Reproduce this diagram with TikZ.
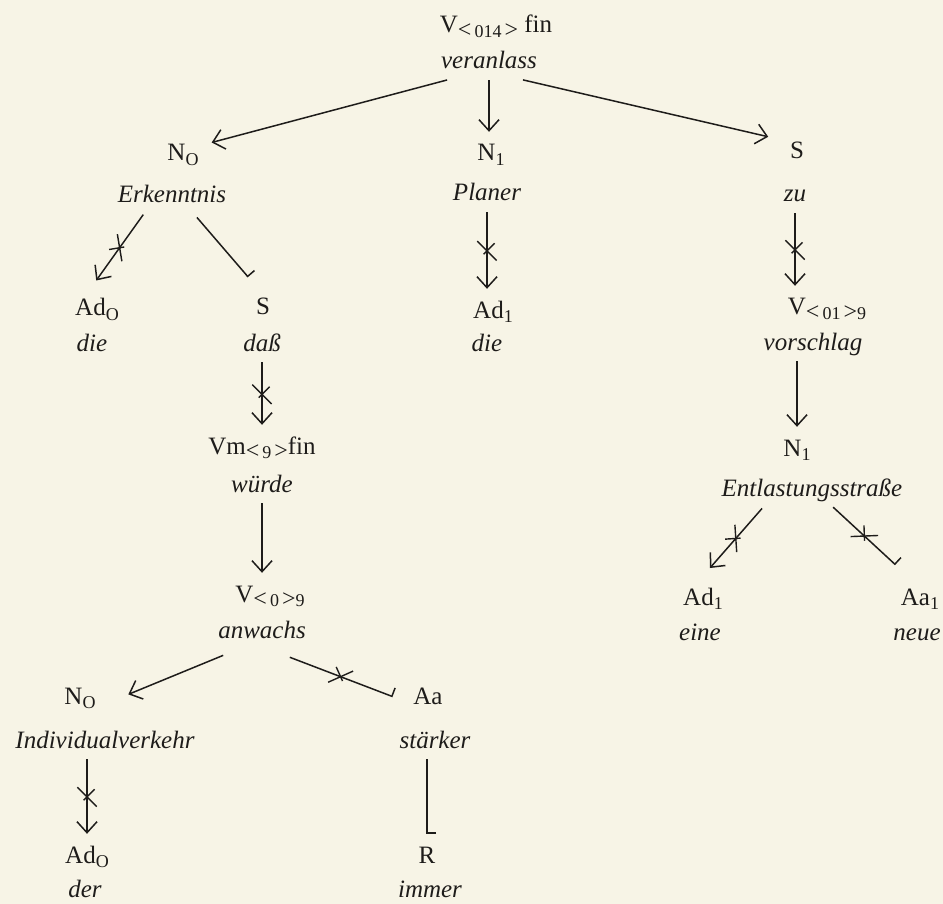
\documentclass[tikz,border=0pt]{standalone}
\usepackage{fontspec}
\setmainfont{Liberation Serif}
\usetikzlibrary{arrows.meta,shapes.misc}
\definecolor{paper}{RGB}{247,244,230}
\definecolor{ink}{RGB}{30,28,26}
\newcommand{\dsub}[1]{\raisebox{-0.4ex}{\fontsize{18}{18}\selectfont #1}}
\newcommand{\dlt}{{\fontsize{24}{24}\selectfont<}\,}
\newcommand{\dgt}{\,{\fontsize{24}{24}\selectfont>}}

\begin{document}
\begin{tikzpicture}[x=1pt, y=-1pt,
  every node/.style = {text=ink, font=\fontsize{25}{30}\selectfont,
    text height=17pt, text depth=5pt, inner sep=3pt},
  word/.style = {font=\fontsize{25}{30}\selectfont\itshape},
  dep/.style = {draw=ink, line width=1.5pt, shorten <=3pt, shorten >=9pt},
  arr/.style = {dep, -{Straight Barb[length=11pt, width=20pt]}},
  barred/.style = {dep, -{Bar[left, width=18pt]}},
  cut/.style = {pos=0.47, sloped, cross out, draw=ink, line width=1.4pt,
    minimum size=18pt, inner sep=0pt, text height=0pt, text depth=0pt}
  ]
  \useasboundingbox (0,0) rectangle (943,904);
  \fill[paper] (0,0) rectangle (943,904);

  \node (vfin) at (496,27) {V\dsub{\dlt 014\dgt} fin};
  \node[word] (veranlass) at (489,63) {veranlass};

  \node (no1) at (183,155) {N\dsub{O}};
  \node[word] (erkenntnis) at (172,197) {Erkenntnis};
  \node (n1) at (491,155) {N\dsub{1}};
  \node[word] (planer) at (487,195) {Planer};
  \node (s1) at (797,153) {S};
  \node[word] (zu) at (795,196) {zu};

  \node (ado1) at (97,310) {Ad\dsub{O}};
  \node[word] (die1) at (92,345) {die};
  \node (s2) at (263,308) {S};
  \node[word] (dass) at (262,345) {daß};
  \node (ad1) at (493,312) {Ad\dsub{1}};
  \node[word] (die2) at (487,346) {die};
  \node (v01) at (827,309) {V\dsub{\dlt 01\dgt 9}};
  \node[word] (vorschlag) at (813,344) {vorschlag};

  \node (vm) at (262,448) {Vm\dsub{\dlt 9\dgt}fin};
  \node[word] (wuerde) at (262,486) {würde};
  \node (n2) at (797,450) {N\dsub{1}};
  \node[word] (entlastung) at (812,490) {Entlastungsstraße};

  \node (v0) at (270,596) {V\dsub{\dlt 0\dgt 9}};
  \node[word] (anwachs) at (262,632) {anwachs};
  \node (ad2) at (703,599) {Ad\dsub{1}};
  \node[word] (eine) at (700,634) {eine};
  \node (aa1) at (920,599) {Aa\dsub{1}};
  \node[word] (neue) at (917,634) {neue};

  \node (no2) at (80,698) {N\dsub{O}};
  \node[word] (individual) at (105,742) {Individualverkehr};
  \node (aa) at (428,698) {Aa};
  \node[word] (staerker) at (435,742) {stärker};

  \node (ado2) at (87,857) {Ad\dsub{O}};
  \node[word] (der) at (85,891) {der};
  \node (r) at (427,857) {R};
  \node[word] (immer) at (430,891) {immer};

  \draw[arr] ([shift={(-39,2)}]veranlass.south) -- ([shift={(20,4)}]no1.north);
  \draw[arr] (veranlass.south) -- (veranlass.south |- n1.north);
  \draw[arr] ([shift={(31,2)}]veranlass.south) -- ([shift={(-20,0)}]s1.north);

  \draw[arr] ([shift={(-27,1)}]erkenntnis.south) -- node[cut]{} ([shift={(-6,-8)}]ado1.north);
  \draw[barred] ([shift={(23,4)}]erkenntnis.south) -- ([shift={(-9,-10)}]s2.north);
  \draw[arr] (planer.south) -- node[cut]{} (planer.south |- ad1.north);
  \draw[arr] (zu.south) -- node[cut]{} (zu.south |- v01.north);

  \draw[arr] (dass.south) -- node[cut]{} (dass.south |- vm.north);
  \draw[arr] (n2.north |- vorschlag.south) -- (n2.north);
  \draw[arr] (wuerde.south) -- (wuerde.south |- v0.north);

  \draw[arr] ([shift={(-48,2)}]entlastung.south) -- node[cut]{} ([shift={(1,-10)}]ad2.north);
  \draw[barred] ([shift={(19,1)}]entlastung.south) -- node[cut]{} ([shift={(-18,-14)}]aa1.north);

  \draw[arr] ([shift={(-36,8)}]anwachs.south) -- ([shift={(40,14)}]no2.north);
  \draw[barred] ([shift={(25,10)}]anwachs.south) -- node[cut]{} ([shift={(-27,16)}]aa.north);

  \draw[arr] (ado2.north |- individual.south) -- node[cut]{} (ado2.north);
  \draw[barred] (r.north |- staerker.south) -- (r.north);
\end{tikzpicture}
\end{document}
